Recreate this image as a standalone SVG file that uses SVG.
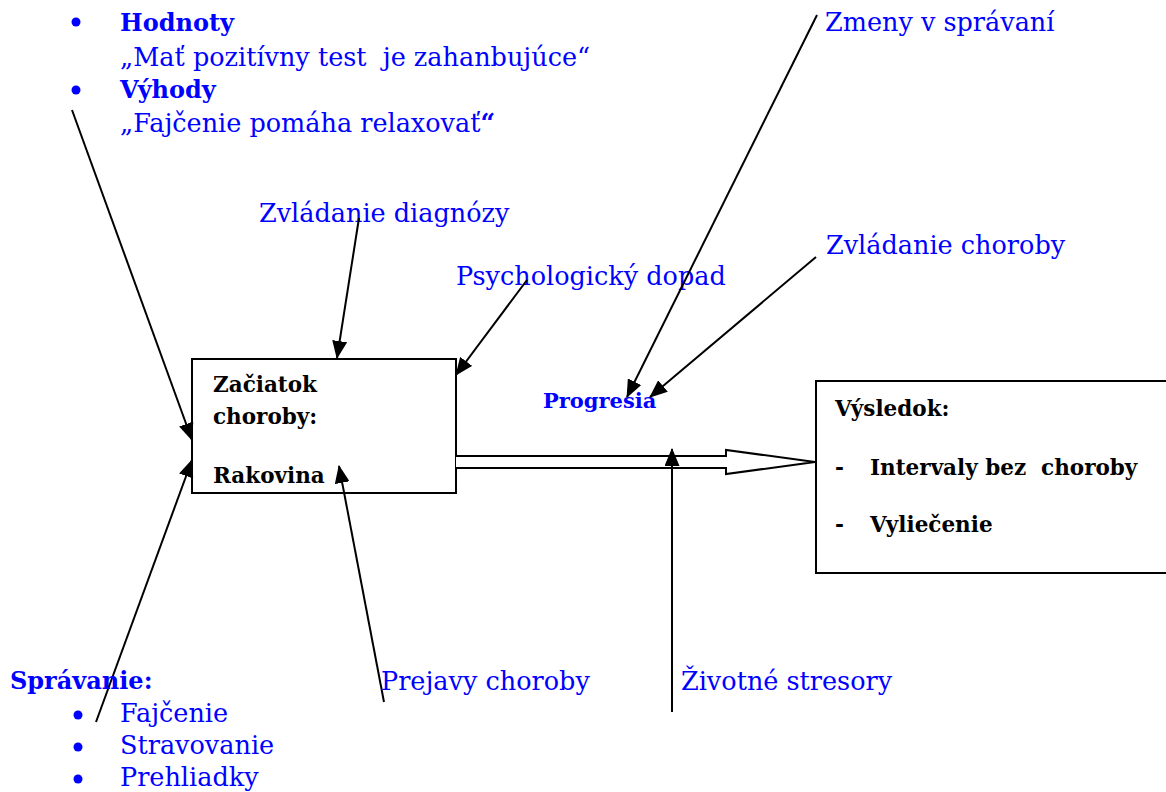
<svg xmlns="http://www.w3.org/2000/svg" width="1166" height="792" viewBox="0 0 1166 792">
<defs>
<style>
.t{font-family:"DejaVu Serif","Liberation Serif",serif;font-size:25.5px;fill:#0000ff}
.tb{font-family:"DejaVu Serif","Liberation Serif",serif;font-size:24px;font-weight:bold;fill:#0000ff}
.k{font-family:"DejaVu Serif","Liberation Serif",serif;font-size:21.5px;font-weight:bold;fill:#000}
.ln{stroke:#000;stroke-width:2;fill:none}
.box{stroke:#000;stroke-width:2;fill:#fff}
</style>
<marker id="ahL" markerWidth="18" markerHeight="15" refX="17" refY="7.5" orient="auto" markerUnits="userSpaceOnUse" viewBox="0 0 18 15">
<path d="M0,0 L18,7.5 L0,15 Z" fill="#000"/>
</marker>
</defs>
<rect width="1166" height="792" fill="#fff"/>

<g id="beliefs">
<circle cx="76" cy="22" r="4.5" fill="#0000ff"/>
<text class="tb" x="120" y="31">Hodnoty</text>
<text class="t" x="120" y="66" xml:space="preserve">„Mať pozitívny test  je zahanbujúce“</text>
<circle cx="76" cy="90" r="4.5" fill="#0000ff"/>
<text class="tb" x="120" y="98">Výhody</text>
<text class="t" x="120" y="132">„Fajčenie pomáha relaxovať<tspan font-weight="bold">“</tspan></text>
</g>

<g id="zmeny"><text class="t" x="825" y="31">Zmeny v správaní</text></g>
<g id="zvladanie-diagnozy"><text class="t" x="259" y="222">Zvládanie diagnózy</text></g>
<g id="psych"><text class="t" x="456" y="285">Psychologický dopad</text></g>
<g id="zvladanie-choroby"><text class="t" x="826" y="254">Zvládanie choroby</text></g>
<g id="progresia"><text class="tb" x="543" y="408" style="font-size:21px">Progresia</text></g>

<g id="zaciatok">
<rect class="box" x="192" y="359" width="264" height="134"/>
<text class="k" x="213" y="392">Začiatok</text>
<text class="k" x="213" y="424">choroby:</text>
<text class="k" x="213" y="483">Rakovina</text>
</g>

<g id="vysledok">
<rect class="box" x="816" y="381" width="360" height="192"/>
<text class="k" x="835" y="416">Výsledok:</text>
<text class="k" x="835" y="475">-</text>
<text class="k" x="870" y="475" xml:space="preserve">Intervaly bez  choroby</text>
<text class="k" x="835" y="532">-</text>
<text class="k" x="870" y="532">Vyliečenie</text>
</g>

<g id="connectors">
<line class="ln" x1="72" y1="110" x2="192" y2="440" marker-end="url(#ahL)"/>
<line class="ln" x1="96" y1="722" x2="192" y2="460" marker-end="url(#ahL)"/>
<line class="ln" x1="359" y1="218" x2="337" y2="358" marker-end="url(#ahL)"/>
<line class="ln" x1="527" y1="280" x2="456" y2="375" marker-end="url(#ahL)"/>
<line class="ln" x1="384" y1="702" x2="339" y2="466" marker-end="url(#ahL)"/>
<line class="ln" x1="817" y1="15" x2="627" y2="397" marker-end="url(#ahL)"/>
<line class="ln" x1="816" y1="257" x2="650" y2="397" marker-end="url(#ahL)"/>
<path d="M456,456 L726,456 L726,450 L815,462 L726,474 L726,468 L456,468" stroke="#000" stroke-width="2" fill="#fff"/>
<line class="ln" x1="672" y1="712" x2="672" y2="449" marker-end="url(#ahL)"/>
</g>

<g id="prejavy"><text class="t" x="381" y="690">Prejavy choroby</text></g>
<g id="stresory"><text class="t" x="681" y="690">Životné stresory</text></g>

<g id="spravanie">
<text class="tb" x="10" y="689">Správanie:</text>
<circle cx="78" cy="715" r="4.5" fill="#0000ff"/>
<text class="t" x="120" y="722">Fajčenie</text>
<circle cx="78" cy="747" r="4.5" fill="#0000ff"/>
<text class="t" x="120" y="754">Stravovanie</text>
<circle cx="78" cy="779" r="4.5" fill="#0000ff"/>
<text class="t" x="120" y="786">Prehliadky</text>
</g>
</svg>
